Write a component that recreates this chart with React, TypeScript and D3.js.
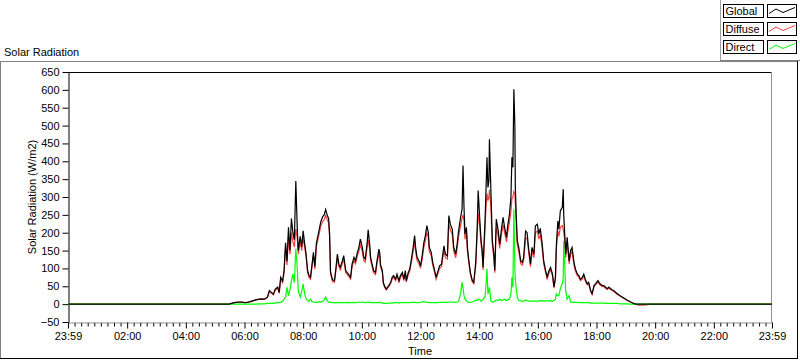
import { useEffect, useRef } from "react";
import * as d3 from "d3";

// sample times (HH:MM) and radiation values in W/m2
const times = [
  "00:00", "05:29", "05:35", "05:42", "05:52", "06:02", "06:12", "06:23", "06:29", "06:35",
  "06:41", "06:47", "06:51", "06:55", "06:59", "07:03", "07:08", "07:11", "07:14", "07:18",
  "07:21", "07:24", "07:27", "07:30", "07:33", "07:36", "07:39", "07:42", "07:45", "07:48",
  "07:50", "07:54", "07:57", "08:00", "08:03", "08:06", "08:09", "08:12", "08:15", "08:18",
  "08:21", "08:24", "08:27", "08:30", "08:33", "08:36", "08:40", "08:43", "08:46", "08:49",
  "08:52", "08:54", "08:56", "09:00", "09:04", "09:07", "09:10", "09:13", "09:16", "09:20",
  "09:23", "09:27", "09:31", "09:37", "09:40", "09:44", "09:47", "09:51", "09:54", "09:57",
  "10:01", "10:04", "10:07", "10:11", "10:13", "10:16", "10:18", "10:21", "10:24", "10:28",
  "10:31", "10:35", "10:37", "10:38", "10:42", "10:44", "10:47", "10:50", "10:55", "10:59",
  "11:02", "11:05", "11:09", "11:12", "11:16", "11:19", "11:23", "11:26", "11:29", "11:31",
  "11:35", "11:38", "11:42", "11:45", "11:48", "11:50", "11:53", "11:57", "12:00", "12:03",
  "12:07", "12:10", "12:13", "12:16", "12:18", "12:22", "12:25", "12:29", "12:32", "12:35",
  "12:39", "12:43", "12:48", "12:51", "12:55", "12:58", "13:01", "13:05", "13:08", "13:12",
  "13:15", "13:18", "13:22", "13:25", "13:27", "13:29", "13:31", "13:34", "13:36", "13:39",
  "13:42", "13:46", "13:49", "13:53", "13:56", "13:58", "14:01", "14:04", "14:06", "14:08",
  "14:12", "14:14", "14:16", "14:18", "14:20", "14:21", "14:24", "14:27", "14:30", "14:32",
  "14:35", "14:39", "14:42", "14:46", "14:49", "14:52", "14:56", "14:58", "15:02", "15:05",
  "15:07", "15:09", "15:11", "15:13", "15:14", "15:16", "15:18", "15:21", "15:25", "15:28",
  "15:31", "15:35", "15:38", "15:41", "15:45", "15:48", "15:52", "15:55", "15:59", "16:02",
  "16:05", "16:09", "16:12", "16:16", "16:19", "16:23", "16:26", "16:30", "16:33", "16:36",
  "16:38", "16:41", "16:43", "16:46", "16:50", "16:52", "16:53", "16:55", "16:57", "17:00",
  "17:04", "17:07", "17:10", "17:14", "17:17", "17:21", "17:24", "17:27", "17:31", "17:34",
  "17:38", "17:41", "17:44", "17:48", "17:51", "17:55", "17:58", "18:03", "18:07", "18:12",
  "18:15", "18:18", "18:22", "18:25", "18:29", "18:32", "18:35", "18:42", "18:49", "18:56",
  "19:03", "19:10", "19:16", "19:20", "19:26", "19:34", "19:42", "19:50", "23:59",
];

const globalRad = [
  0, 0, 3, 5, 6, 4, 7, 12, 14, 15,
  14, 20, 38, 33, 28, 42, 48, 33, 75, 65,
  95, 172, 120, 215, 150, 240, 200, 180, 345, 210,
  150, 190, 160, 205, 170, 140, 95, 80, 75, 110,
  145, 105, 170, 190, 210, 230, 245, 250, 265, 250,
  240, 200, 90, 68, 66, 100, 140, 112, 103, 121,
  136, 94, 87, 75, 112, 131, 121, 145, 159, 182,
  159, 131, 126, 173, 208, 168, 131, 112, 94, 89,
  121, 154, 140, 112, 94, 61, 49, 42, 52, 61,
  75, 80, 70, 84, 66, 80, 89, 70, 94, 66,
  89, 98, 131, 159, 192, 159, 131, 121, 107, 131,
  173, 192, 220, 201, 159, 145, 117, 94, 75, 89,
  107, 112, 163, 140, 135, 248, 224, 210, 159, 140,
  168, 205, 243, 266, 388, 271, 196, 215, 159, 121,
  89, 66, 61, 117, 215, 318, 243, 177, 154, 103,
  233, 318, 411, 327, 346, 462, 318, 177, 140, 94,
  238, 205, 168, 215, 243, 215, 187, 215, 252, 299,
  411, 383, 602, 504, 327, 243, 177, 159, 121, 117,
  131, 205, 200, 159, 112, 159, 140, 219, 224, 196,
  212, 168, 121, 94, 76, 94, 103, 84, 48, 75,
  168, 233, 210, 261, 271, 322, 250, 196, 140, 187,
  121, 150, 159, 117, 98, 84, 80, 70, 75, 84,
  66, 57, 61, 38, 29, 52, 57, 66, 57, 52,
  52, 48, 43, 48, 43, 40, 38, 30, 23, 17,
  11, 6, 2, 0, 0, 0, 0, 0, 0,
];

const diffuseRad = [
  0, 0, 3, 5, 6, 4, 7, 12, 13, 14,
  13, 18, 35, 31, 26, 39, 45, 30, 70, 60,
  88, 160, 110, 190, 140, 200, 175, 160, 210, 185,
  140, 175, 150, 185, 160, 132, 88, 74, 70, 103,
  136, 98, 160, 180, 198, 218, 232, 236, 248, 238,
  228, 190, 85, 63, 61, 94, 128, 105, 96, 113,
  126, 88, 82, 70, 104, 122, 113, 135, 148, 165,
  148, 123, 118, 160, 180, 155, 122, 105, 88, 83,
  113, 142, 130, 105, 88, 57, 46, 40, 49, 57,
  70, 75, 66, 78, 62, 75, 83, 66, 86, 62,
  83, 92, 122, 148, 175, 148, 122, 113, 100, 122,
  160, 178, 200, 188, 148, 135, 109, 88, 70, 83,
  100, 105, 150, 130, 126, 225, 208, 195, 148, 130,
  156, 190, 220, 240, 250, 235, 182, 198, 148, 113,
  84, 62, 57, 108, 198, 255, 220, 165, 143, 96,
  212, 270, 310, 290, 300, 320, 270, 165, 130, 88,
  215, 190, 156, 198, 222, 200, 174, 198, 228, 260,
  295, 300, 315, 310, 280, 220, 165, 148, 113, 109,
  122, 185, 185, 148, 105, 148, 130, 200, 205, 182,
  195, 156, 113, 88, 71, 88, 96, 79, 45, 70,
  156, 205, 190, 215, 220, 210, 200, 180, 130, 172,
  113, 140, 148, 109, 92, 79, 75, 66, 70, 79,
  62, 54, 57, 36, 27, 49, 54, 62, 54, 49,
  49, 45, 41, 45, 41, 38, 36, 28, 22, 16,
  10, 6, 2, 0, -3, -3, -2, 0, 0,
];

const directRad = [
  0, 0, 0, 0, 0, 0, 0, 0, 1, 1,
  1, 2, 2, 2, 3, 3, 4, 4, 5, 8,
  14, 20, 47, 24, 40, 66, 84, 60, 155, 100,
  38, 20, 35, 57, 29, 15, 10, 8, 14, 7,
  6, 5, 6, 5, 7, 6, 8, 12, 20, 10,
  6, 5, 5, 4, 4, 4, 5, 4, 4, 5,
  4, 4, 5, 4, 4, 5, 4, 5, 6, 5,
  6, 5, 4, 5, 6, 5, 4, 4, 4, 4,
  4, 5, 5, 4, 3, 3, 2, 2, 3, 3,
  3, 4, 4, 4, 3, 4, 4, 4, 4, 4,
  4, 4, 5, 5, 5, 5, 4, 4, 5, 6,
  7, 6, 5, 5, 5, 4, 4, 4, 4, 4,
  5, 5, 6, 5, 5, 6, 6, 5, 6, 5,
  6, 8, 30, 61, 45, 24, 14, 10, 6, 5,
  5, 6, 8, 12, 10, 14, 12, 8, 10, 14,
  20, 52, 99, 28, 40, 47, 9, 6, 7, 8,
  12, 10, 14, 10, 12, 14, 10, 12, 14, 30,
  75, 47, 266, 103, 66, 42, 19, 10, 9, 8,
  9, 12, 10, 9, 8, 9, 8, 9, 8, 9,
  10, 9, 10, 8, 10, 9, 10, 8, 10, 14,
  29, 24, 24, 43, 57, 71, 177, 112, 38, 14,
  24, 6, 5, 5, 5, 5, 4, 5, 4, 4,
  4, 4, 4, 3, 3, 3, 3, 3, 3, 3,
  3, 2, 2, 2, 2, 2, 2, 2, 1, 1,
  1, 0, 0, 0, 0, 0, 0, 0, 0,
];

const seriesNames = ["Global", "Diffuse", "Direct"];
const seriesColors = ["#000000", "#ff4040", "#00ff00"];

// x ticks in minutes from midnight; first tick is 23:59 of the previous day
const xTickMinutes = [-1, 120, 240, 360, 480, 600, 720, 840, 960, 1080, 1200, 1320, 1439];
const xTickLabels = ["23:59", "02:00", "04:00", "06:00", "08:00", "10:00", "12:00", "14:00", "16:00", "18:00", "20:00", "22:00", "23:59"];
const yTicks = [-50, 0, 50, 100, 150, 200, 250, 300, 350, 400, 450, 500, 550, 600, 650];

const FONT = "'Liberation Sans', Arial, sans-serif";

function toMinutes(t: string) {
  const [h, m] = t.split(":").map(Number);
  return h * 60 + m;
}

export default function App() {
  const svgRef = useRef<SVGSVGElement>(null);

  useEffect(() => {
    if (!svgRef.current) return;
    const svg = d3.select(svgRef.current);
    svg.selectAll("*").remove();

    const plot = { left: 68, right: 772, top: 72, bottom: 322 };

    const x = d3.scaleLinear().domain([-1, 1439]).range([plot.left, plot.right]);
    const y = d3.scaleLinear().domain([-50, 650]).range([plot.bottom, plot.top]);

    // outer panel frame
    svg.append("line").attr("x1", 0.5).attr("x2", 0.5).attr("y1", 61).attr("y2", 359).attr("stroke", "#808080");
    svg.append("line").attr("x1", 0).attr("x2", 797).attr("y1", 61.5).attr("y2", 61.5).attr("stroke", "#808080");
    svg.append("line").attr("x1", 0).attr("x2", 798).attr("y1", 358.5).attr("y2", 358.5).attr("stroke", "#000");
    svg.append("line").attr("x1", 797.5).attr("x2", 797.5).attr("y1", 61).attr("y2", 359).attr("stroke", "#000");

    svg.append("text")
      .attr("x", 4).attr("y", 56)
      .attr("font-family", FONT).attr("font-size", 11)
      .text("Solar Radiation");

    // legend
    const legend = svg.append("g");
    legend.append("line").attr("x1", 720.5).attr("x2", 720.5).attr("y1", 0).attr("y2", 60).attr("stroke", "#a0a0a0");
    legend.append("line").attr("x1", 720).attr("x2", 800).attr("y1", 60.5).attr("y2", 60.5).attr("stroke", "#808080");
    seriesNames.forEach((name, i) => {
      const top = 4.5 + i * 18;
      legend.append("rect").attr("x", 723.5).attr("y", top).attr("width", 40).attr("height", 13)
        .attr("fill", "#fff").attr("stroke", "#000");
      legend.append("text").attr("x", 725.5).attr("y", top + 10.5)
        .attr("font-family", FONT).attr("font-size", 11).text(name);
      legend.append("rect").attr("x", 767.5).attr("y", top).attr("width", 29).attr("height", 13)
        .attr("fill", "#fff").attr("stroke", "#000");
      legend.append("polyline")
        .attr("points", [[769, top + 9], [776, top + 4.5], [783, top + 8], [789, top + 5.5], [795, top + 3]].map((p) => p.join(",")).join(" "))
        .attr("fill", "none").attr("stroke", seriesColors[i]);
    });

    // plot frame top / right
    svg.append("line").attr("x1", plot.left).attr("x2", plot.right).attr("y1", plot.top + 0.5).attr("y2", plot.top + 0.5).attr("stroke", "#000");
    svg.append("line").attr("x1", plot.right - 0.5).attr("x2", plot.right - 0.5).attr("y1", plot.top).attr("y2", plot.bottom).attr("stroke", "#909090");

    // x axis: minor ticks then major ticks with labels
    const minorTicks: number[] = [];
    for (let i = 0; i < xTickMinutes.length - 1; i++) {
      const a = xTickMinutes[i];
      const b = xTickMinutes[i + 1];
      for (let k = 1; k < 9; k++) minorTicks.push(a + ((b - a) * k) / 9);
    }
    const minorAxis = svg.append("g")
      .attr("transform", `translate(0,${plot.bottom + 0.5})`)
      .call(d3.axisBottom(x).tickValues(minorTicks).tickSize(4).tickFormat(() => ""));
    minorAxis.select(".domain").remove();
    minorAxis.selectAll("line").attr("stroke", "#000");

    const xAxis = svg.append("g")
      .attr("transform", `translate(0,${plot.bottom + 0.5})`)
      .call(d3.axisBottom(x).tickValues(xTickMinutes).tickSizeInner(6).tickSizeOuter(0).tickPadding(4)
        .tickFormat((_, i) => xTickLabels[i]));
    xAxis.select(".domain").attr("stroke", "#909090");
    xAxis.selectAll("text").attr("font-family", FONT).attr("font-size", 11).attr("fill", "#000");

    const yAxis = svg.append("g")
      .attr("transform", `translate(${plot.left + 0.5},0)`)
      .call(d3.axisLeft(y).tickValues(yTicks).tickSizeInner(6).tickSizeOuter(0).tickPadding(3));
    yAxis.select(".domain").attr("stroke", "#000");
    yAxis.selectAll("text").attr("font-family", FONT).attr("font-size", 11).attr("fill", "#000");

    svg.append("text")
      .attr("x", (plot.left + plot.right) / 2).attr("y", 355)
      .attr("text-anchor", "middle")
      .attr("font-family", FONT).attr("font-size", 11)
      .text("Time");

    svg.append("text")
      .attr("transform", `translate(36,${(plot.top + plot.bottom) / 2}) rotate(-90)`)
      .attr("text-anchor", "middle")
      .attr("font-family", FONT).attr("font-size", 11)
      .text("Solar Radiation (W/m2)");

    // series
    const mins = times.map(toMinutes);
    const line = d3.line<number>()
      .x((_, i) => x(mins[i]))
      .y((d) => y(d));

    const g = svg.append("g");
    [diffuseRad, directRad, globalRad].forEach((values, k) => {
      const color = [seriesColors[1], seriesColors[2], seriesColors[0]][k];
      g.append("path")
        .datum(values)
        .attr("fill", "none")
        .attr("stroke", color)
        .attr("stroke-width", 1.2)
        .attr("stroke-linejoin", "miter")
        .attr("d", line);
    });
  }, []);

  return (
    <svg
      ref={svgRef}
      width={800}
      height={361}
      style={{ position: "absolute", left: 0, top: 0, background: "#fff" }}
    />
  );
}
